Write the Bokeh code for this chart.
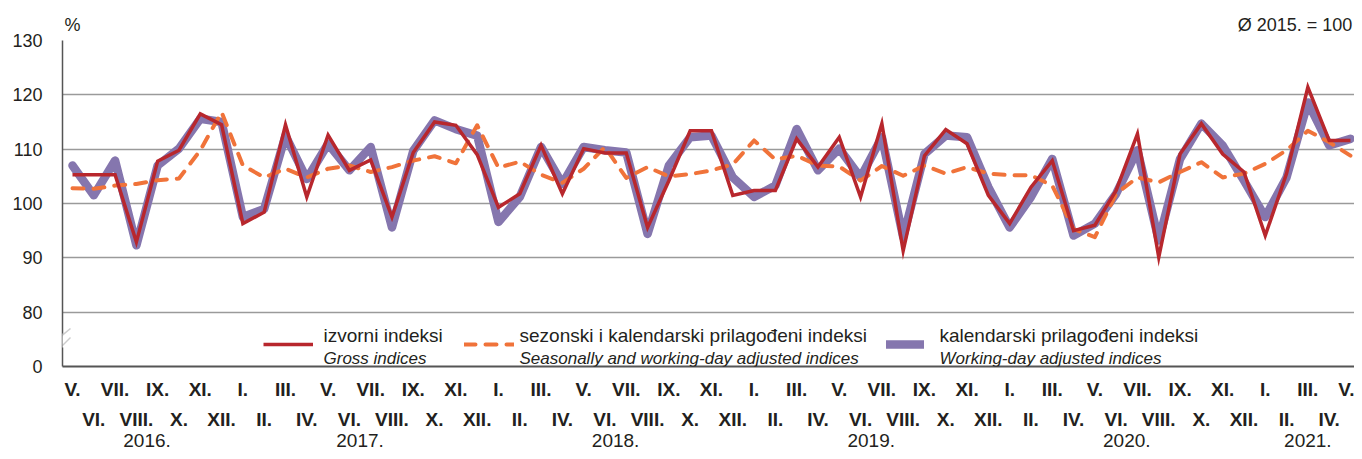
from bokeh.plotting import figure
from bokeh.models import (Range1d, FixedTicker, LinearAxis, Legend, LegendItem,
                          Label, PolyAnnotation, BoxAnnotation, ColumnDataSource)
from bokeh.embed import file_html
from bokeh.resources import INLINE

# ---------------- data ----------------
roman = ["I.", "II.", "III.", "IV.", "V.", "VI.", "VII.", "VIII.", "IX.", "X.", "XI.", "XII."]
# months V.2016 ... V.2021
month_labels = [roman[(4 + i) % 12] for i in range(61)]
month_years = [2016 + (4 + i) // 12 for i in range(61)]
year_labels = ["2016.", "2017.", "2018.", "2019.", "2020.", "2021."]

gross = [105.3, 105.3, 105.3, 92.9, 107.8, 109.8, 116.5, 114.5,
         96.3, 98.4, 114.5, 101.2, 112.6, 106.1, 108.0, 97.5, 109.4, 115.0, 114.4, 109.0,
         99.3, 101.8, 110.7, 101.8, 110.1, 109.3, 109.3, 95.6, 104.2, 113.4, 113.4, 101.5,
         102.4, 102.4, 111.9, 106.7, 112.2, 101.2, 114.7, 91.3, 108.8, 113.6, 111.0, 101.5,
         96.3, 103.0, 107.9, 95.0, 96.0, 102.4, 112.8, 90.1, 109.1, 114.7, 109.1, 105.8,
         94.1, 105.5, 121.4, 111.6, 111.6]

seas_adj = [102.8, 102.7, 103.3, 103.6, 104.3, 104.6, 109.8, 116.8,
            107.0, 104.8, 106.4, 104.8, 106.4, 107.0, 105.8, 106.7, 107.9, 108.7, 107.4, 114.4,
            106.6, 107.7, 105.3, 103.8, 106.4, 110.4, 104.7, 106.7, 105.0, 105.4, 106.1, 107.2,
            111.6, 108.1, 108.8, 107.0, 106.8, 104.2, 106.9, 105.1, 107.0, 105.5, 106.7, 105.5,
            105.2, 105.2, 103.3, 95.3, 93.8, 101.8, 104.8, 103.9, 105.8, 107.6, 104.8, 105.5,
            107.3, 109.8, 113.4, 111.3, 108.8]

wd_adj = [107.0, 101.5, 107.9, 92.3, 107.0, 110.1, 115.6, 115.0,
          97.5, 99.0, 112.5, 104.5, 111.0, 106.1, 110.4, 95.6, 109.7, 115.3, 113.7, 112.5,
          96.6, 101.2, 110.4, 103.6, 110.4, 109.8, 109.4, 94.4, 107.0, 112.2, 112.5, 104.8,
          101.2, 103.3, 113.7, 106.1, 110.1, 104.8, 112.2, 93.8, 109.1, 112.5, 112.2, 103.0,
          95.6, 101.2, 108.2, 94.1, 96.3, 101.8, 109.8, 93.2, 108.2, 114.7, 110.7, 104.2,
          97.5, 104.8, 118.6, 110.7, 111.9]

legend_main = ["izvorni indeksi", "sezonski i kalendarski prilagođeni indeksi",
               "kalendarski prilagođeni indeksi"]
legend_sub = ["Gross indices", "Seasonally and working-day adjusted indices",
              "Working-day adjusted indices"]
unit_text = "%"
base_text = "Ø 2015. = 100"

idx = list(range(len(month_labels)))
year_pos = []
for y in range(2016, 2022):
    ii = [i for i in idx if month_years[i] == y]
    year_pos.append(sum(ii) / len(ii))

# ---------------- style ----------------
FONT = "'Liberation Sans', Arial, sans-serif"
NARROW = "'Liberation Sans Narrow', 'Arial Narrow', 'Liberation Sans', sans-serif"
TXT = "#231f20"
AXC = "#555555"

src = ColumnDataSource(dict(x=idx, gross=gross, sa=seas_adj, wd=wd_adj))

p = figure(width=1354, height=451, x_range=Range1d(-0.469, 60.19), y_range=Range1d(70, 130),
           output_backend="svg", toolbar_location=None,
           min_border_left=62, min_border_right=0, min_border_top=40, min_border_bottom=85)
p.outline_line_color = None
p.background_fill_color = "white"
p.xgrid.visible = False
p.ygrid.ticker = FixedTicker(ticks=[80, 90, 100, 110, 120, 130])
p.ygrid.grid_line_color = "#9a9a9a"
p.ygrid.grid_line_width = 1.5

# y axis
ya = p.yaxis[0]
ya.ticker = FixedTicker(ticks=[70, 80, 90, 100, 110, 120, 130])
ya.major_label_overrides = {70: "0"}
ya.major_tick_line_color = None
ya.minor_tick_line_color = None
ya.major_tick_out = 0
ya.minor_tick_out = 0
ya.major_label_standoff = 20
ya.major_label_text_font = FONT
ya.major_label_text_font_size = "18px"
ya.major_label_text_color = TXT
ya.axis_line_color = AXC
ya.axis_line_width = 1.5

# x axis row 1
xa = p.xaxis[0]
xa.ticker = FixedTicker(ticks=idx[0::2])
xa.major_label_overrides = {i: month_labels[i] for i in idx[0::2]}
xa.major_tick_line_color = None
xa.minor_tick_line_color = None
xa.major_tick_out = 0
xa.minor_tick_out = 0
xa.axis_line_color = AXC
xa.axis_line_width = 2
xa.major_label_standoff = 12
xa.major_label_text_font = NARROW
xa.major_label_text_font_style = "bold"
xa.major_label_text_font_size = "19px"
xa.major_label_text_color = TXT

xa2 = LinearAxis(ticker=FixedTicker(ticks=idx[1::2]),
                 major_label_overrides={i: month_labels[i] for i in idx[1::2]},
                 major_tick_line_color=None, minor_tick_line_color=None, axis_line_color=None,
                 major_tick_out=0, minor_tick_out=0,
                 major_label_standoff=6, major_label_text_font=NARROW,
                 major_label_text_font_style="bold", major_label_text_font_size="19px",
                 major_label_text_color=TXT)
p.add_layout(xa2, "below")

xa3 = LinearAxis(ticker=FixedTicker(ticks=year_pos),
                 major_label_overrides={year_pos[k]: year_labels[k] for k in range(len(year_labels))},
                 major_tick_line_color=None, minor_tick_line_color=None, axis_line_color=None,
                 major_tick_out=0, minor_tick_out=0,
                 major_label_standoff=1, major_label_text_font=FONT,
                 major_label_text_font_size="19px", major_label_text_color=TXT)
p.add_layout(xa3, "below")

# header texts ("%" over the y axis, base-year note at the right) as an upper guide
top_ticks = [0, 57.4]
xt = LinearAxis(ticker=FixedTicker(ticks=top_ticks),
                major_label_overrides={top_ticks[0]: unit_text, top_ticks[1]: base_text},
                major_tick_line_color=None, minor_tick_line_color=None, axis_line_color=None,
                major_tick_out=0, minor_tick_out=0,
                major_label_standoff=6, major_label_text_font=FONT,
                major_label_text_font_size="18px", major_label_text_color=TXT)
p.add_layout(xt, "above")

# series
r_wd = p.line("x", "wd", source=src, color="#8576ae", line_width=8.5,
              line_join="round", line_cap="round")
r_sa = p.line("x", "sa", source=src, color="#f0733a", line_width=4, line_dash="11 10",
              line_join="round", line_cap="round")
r_gr = p.line("x", "gross", source=src, color="#b8272d", line_width=3.5, line_join="miter")

# legend samples (glyphs) + two-line texts
def make_legend(rend, loc, gw):
    return Legend(items=[LegendItem(label=" ", renderers=[rend])], location=loc,
                  orientation="horizontal", padding=0, margin=0, spacing=0,
                  border_line_color=None, background_fill_alpha=0,
                  label_text_font=FONT, label_text_font_size="19px", label_text_color=TXT,
                  glyph_width=gw, glyph_height=16, label_height=16, label_standoff=0)

p.add_layout(make_legend(r_gr, (201, 14), 50))
p.add_layout(make_legend(r_sa, (402, 14), 50))
p.add_layout(make_legend(r_wd, (824, 14), 38))

for k, x in enumerate([261, 457, 877]):
    p.add_layout(Label(x=x, y=31, x_units="screen", y_units="screen", text=legend_main[k],
                       text_font=FONT, text_font_size="19px",
                       text_color=TXT, text_baseline="alphabetic"))
    p.add_layout(Label(x=x, y=8, x_units="screen", y_units="screen", text=legend_sub[k],
                       text_font=FONT, text_font_style="italic", text_font_size="17px",
                       text_color=TXT, text_baseline="alphabetic"))

# axis break
p.add_layout(BoxAnnotation(left=-4, right=4, bottom=19, top=33, left_units="screen",
                           right_units="screen", bottom_units="screen", top_units="screen",
                           fill_color="white", fill_alpha=1, line_color=None, level="overlay"))
p.add_layout(PolyAnnotation(xs=[-9, 8], ys=[24, 38], xs_units="screen", ys_units="screen",
                            fill_alpha=0, line_color=AXC, line_width=1.5, level="overlay"))
p.add_layout(PolyAnnotation(xs=[-6, 8], ys=[15, 29], xs_units="screen", ys_units="screen",
                            fill_alpha=0, line_color=AXC, line_width=1.5, level="overlay"))

open("out.html", "w").write(file_html(p, INLINE))
